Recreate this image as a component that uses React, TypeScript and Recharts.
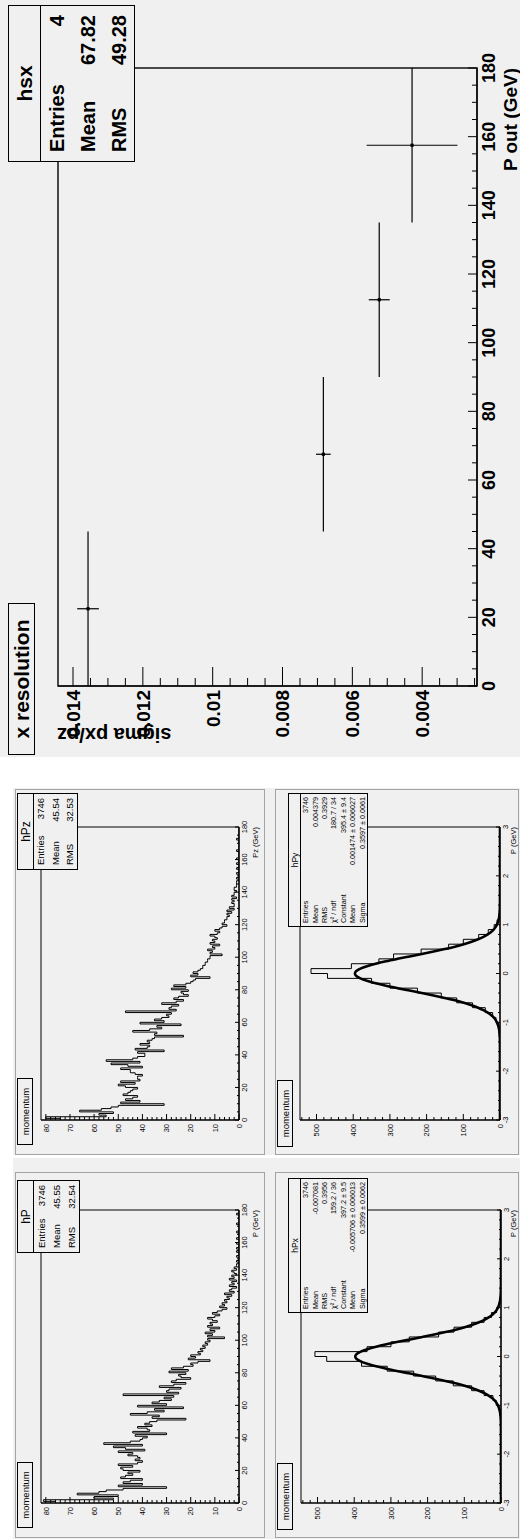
import React from "react";
import {
  LineChart,
  Line,
  XAxis,
  YAxis,
  ScatterChart,
  Scatter,
  ErrorBar,
  ReferenceArea,
} from "recharts";

const FONT = '"Liberation Sans", Arial, Helvetica, sans-serif';
const BG = "#f0f0f0";

// ---- x resolution (hsx) ----
const P_OUT = [22.5, 67.5, 112.5, 157.5];
const P_OUT_HALF_BIN = [22.5, 22.5, 22.5, 22.5];
const SIGMA_PXPZ = [0.01357, 0.00683, 0.00523, 0.00429];
const SIGMA_ERR = [0.00031, 0.00021, 0.0003, 0.0013];
const HSX_STATS = [
  ["Entries", "4"],
  ["Mean", "67.82"],
  ["RMS", "49.28"],
];

// ticks (GeV axes are shared by the big plot and hP / hPz)
const GEV_TICKS = [
  0, 5, 10, 15, 20, 25, 30, 35, 40, 45, 50, 55, 60, 65, 70, 75, 80, 85, 90, 95,
  100, 105, 110, 115, 120, 125, 130, 135, 140, 145, 150, 155, 160, 165, 170,
  175, 180,
];
const GEV_MAJOR = [0, 20, 40, 60, 80, 100, 120, 140, 160, 180];
const GEV_LABELS = ["0", "20", "40", "60", "80", "100", "120", "140", "160", "180"];
const SIGMA_TICKS = [
  0.0025, 0.003, 0.0035, 0.004, 0.0045, 0.005, 0.0055, 0.006, 0.0065, 0.007,
  0.0075, 0.008, 0.0085, 0.009, 0.0095, 0.01, 0.0105, 0.011, 0.0115, 0.012,
  0.0125, 0.013, 0.0135, 0.014,
];
const SIGMA_MAJOR = [0.004, 0.006, 0.008, 0.01, 0.012, 0.014];
const SIGMA_LABELS = ["0.004", "0.006", "0.008", "0.01", "0.012", "0.014"];

const COUNT_TICKS = [
  0, 2, 4, 6, 8, 10, 12, 14, 16, 18, 20, 22, 24, 26, 28, 30, 32, 34, 36, 38, 40,
  42, 44, 46, 48, 50, 52, 54, 56, 58, 60, 62, 64, 66, 68, 70, 72, 74, 76, 78, 80,
];
const COUNT_MAJOR = [0, 10, 20, 30, 40, 50, 60, 70, 80];
const COUNT_LABELS = ["0", "10", "20", "30", "40", "50", "60", "70", "80"];

const PX_TICKS = [
  -3, -2.8, -2.6, -2.4, -2.2, -2, -1.8, -1.6, -1.4, -1.2, -1, -0.8, -0.6, -0.4,
  -0.2, 0, 0.2, 0.4, 0.6, 0.8, 1, 1.2, 1.4, 1.6, 1.8, 2, 2.2, 2.4, 2.6, 2.8, 3,
];
const PX_MAJOR = [-3, -2, -1, 0, 1, 2, 3];
const PX_LABELS = ["-3", "-2", "-1", "0", "1", "2", "3"];
const PX_COUNT_TICKS = [
  0, 20, 40, 60, 80, 100, 120, 140, 160, 180, 200, 220, 240, 260, 280, 300, 320,
  340, 360, 380, 400, 420, 440, 460, 480, 500, 520, 540,
];
const PX_COUNT_MAJOR = [0, 100, 200, 300, 400, 500];
const PX_COUNT_LABELS = ["0", "100", "200", "300", "400", "500"];

// ---- hP / hPz : 1 GeV bins from 0 to 180 ----
const HP_COUNTS = [
  76, 81, 52, 60, 50, 67, 58, 55, 48, 30,
  50, 40, 48, 45, 40, 49, 47, 44, 46, 41,
  48, 49, 44, 50, 42, 40, 43, 41, 42, 46,
  44, 50, 39, 47, 52, 40, 56, 45, 41, 40,
  38, 43, 30, 44, 37, 38, 42, 36, 39, 37,
  34, 22, 36, 33, 45, 38, 31, 35, 23, 42,
  30, 36, 33, 28, 31, 27, 48, 25, 30, 29,
  24, 33, 27, 22, 28, 26, 20, 24, 25, 22,
  29, 21, 28, 23, 19, 20, 17, 12, 21, 18,
  20, 16, 17, 15, 16, 14, 15, 13, 14, 12,
  13, 6, 13, 11, 14, 10, 12, 8, 13, 11,
  12, 9, 11, 13, 10, 8, 11, 9, 7, 5,
  8, 6, 7, 5, 6, 4, 5, 3, 6, 2,
  4, 3, 1, 4, 2, 3, 1, 4, 2, 3,
  1, 2, 3, 1, 2, 1, 1, 0, 1, 0,
  0, 1, 0, 0, 1, 0, 1, 0, 0, 1,
  0, 0, 1, 0, 0, 0, 1, 0, 0, 0,
  0, 1, 0, 0, 0, 0, 0, 1, 0, 0,
];
const HPZ_COUNTS = [
  74, 80, 55, 58, 52, 66, 57, 53, 50, 31,
  49, 41, 47, 44, 42, 48, 46, 45, 44, 42,
  47, 50, 43, 49, 41, 42, 42, 40, 43, 45,
  45, 49, 40, 46, 53, 41, 55, 44, 42, 39,
  39, 42, 31, 43, 38, 37, 41, 37, 38, 36,
  35, 23, 35, 34, 44, 37, 32, 34, 24, 41,
  31, 35, 32, 29, 30, 28, 47, 26, 29, 28,
  25, 32, 26, 23, 27, 25, 21, 23, 24, 21,
  28, 22, 27, 22, 20, 19, 18, 12, 20, 17,
  19, 17, 16, 15, 15, 14, 14, 13, 13, 12,
  12, 7, 12, 11, 13, 10, 11, 8, 12, 10,
  11, 9, 10, 12, 9, 8, 10, 8, 7, 5,
  7, 6, 6, 5, 5, 4, 5, 3, 5, 2,
  4, 2, 2, 3, 2, 3, 1, 3, 2, 2,
  1, 2, 2, 1, 1, 1, 1, 0, 1, 0,
  0, 1, 0, 0, 1, 0, 0, 1, 0, 0,
  1, 0, 0, 0, 0, 1, 0, 0, 0, 0,
  0, 0, 1, 0, 0, 0, 0, 0, 0, 0,
];
const HP_STATS = [
  ["Entries", "3746"],
  ["Mean", "45.55"],
  ["RMS", "32.54"],
];
const HPZ_STATS = [
  ["Entries", "3746"],
  ["Mean", "45.54"],
  ["RMS", "32.53"],
];

// ---- hPx / hPy : 0.1 GeV bins from -3 to 3 ----
const HPX_COUNTS = [
  0, 0, 0, 0, 0, 0, 0, 0, 0, 0, 0, 0, 0, 0, 0,
  0, 1, 1, 3, 6, 13, 22, 46, 80, 130, 178, 238, 310, 380, 475,
  507, 365, 300, 250, 170, 128, 80, 46, 26, 12, 6, 3, 1, 0,
  0, 0, 0, 0, 0, 0, 0, 0, 0, 0, 0, 0, 0, 0, 0, 0,
];
const HPY_COUNTS = [
  0, 0, 0, 0, 0, 0, 0, 0, 0, 0, 0, 0, 0, 0, 0,
  0, 1, 2, 2, 5, 11, 20, 40, 75, 118, 160, 225, 300, 350, 470,
  515, 405, 330, 290, 215, 140, 100, 58, 32, 16, 8, 4, 2, 1,
  0, 0, 0, 0, 0, 0, 0, 0, 0, 0, 0, 0, 0, 0, 0, 0,
];
// gaussian fit curves as drawn
const FIT_X = [
  -3, -2, -1.5, -1.4, -1.3, -1.2, -1.1, -1, -0.95, -0.9, -0.85, -0.8, -0.75,
  -0.7, -0.65, -0.6, -0.55, -0.5, -0.45, -0.4, -0.35, -0.3, -0.25, -0.2, -0.15,
  -0.1, -0.05, 0, 0.05, 0.1, 0.15, 0.2, 0.25, 0.3, 0.35, 0.4, 0.45, 0.5, 0.55,
  0.6, 0.65, 0.7, 0.75, 0.8, 0.85, 0.9, 0.95, 1, 1.1, 1.2, 1.3, 1.4, 1.5, 2, 3,
];
const HPX_FIT = [
  0, 0, 0.1, 0.2, 0.6, 1.5, 3.7, 8.4, 12.2, 17.4, 24.4, 33.6, 45.3, 59.9, 77.8,
  99.0, 123.6, 151.4, 181.8, 214.2, 247.5, 280.6, 312.1, 340.4, 364.2, 382.2,
  393.4, 397.2, 393.4, 382.2, 364.2, 340.4, 312.1, 280.6, 247.5, 214.2, 181.8,
  151.4, 123.6, 99.0, 77.8, 59.9, 45.3, 33.6, 24.4, 17.4, 12.2, 8.4, 3.7, 1.5,
  0.6, 0.2, 0.1, 0, 0,
];
const HPY_FIT = [
  0, 0, 0.1, 0.2, 0.6, 1.5, 3.7, 8.4, 12.1, 17.3, 24.3, 33.4, 45.1, 59.6, 77.4,
  98.5, 123.0, 150.7, 181.0, 213.2, 246.4, 279.3, 310.7, 338.9, 362.5, 380.5,
  391.6, 395.4, 391.6, 380.5, 362.5, 338.9, 310.7, 279.3, 246.4, 213.2, 181.0,
  150.7, 123.0, 98.5, 77.4, 59.6, 45.1, 33.4, 24.3, 17.3, 12.1, 8.4, 3.7, 1.5,
  0.6, 0.2, 0.1, 0, 0,
];
const HPX_STATS = [
  ["Entries", "3746"],
  ["Mean", "-0.007081"],
  ["RMS", "0.3956"],
  ["\u03c7\u00b2 / ndf", "159.2 / 36"],
  ["Constant", "397.2 \u00b1 9.5"],
  ["Mean", "-0.005706 \u00b1 0.006013"],
  ["Sigma", "0.3599 \u00b1 0.0062"],
];
const HPY_STATS = [
  ["Entries", "3746"],
  ["Mean", "0.004379"],
  ["RMS", "0.3929"],
  ["\u03c7\u00b2 / ndf", "180.7 / 34"],
  ["Constant", "395.4 \u00b1 9.4"],
  ["Mean", "0.001474 \u00b1 0.006027"],
  ["Sigma", "0.3597 \u00b1 0.0061"],
];

function histPoints(counts: number[], lo: number, w: number) {
  const pts = counts.map((c, i) => ({ x: Math.round((lo + i * w) * 1000) / 1000, y: c }));
  pts.push({ x: Math.round((lo + counts.length * w) * 1000) / 1000, y: counts[counts.length - 1] });
  return pts;
}

type TickOpts = {
  major: number[];
  labels: string[];
  majorLen: number;
  minorLen: number;
  fontSize: number;
  gap: number;
  bold?: boolean;
};

const majorIndex = (major: number[], v: number) =>
  major.findIndex((m) => Math.abs(m - v) < 1e-9);

function bottomTick(o: TickOpts) {
  return (props: any) => {
    const { x, y, payload } = props;
    const k = majorIndex(o.major, payload.value);
    const len = k >= 0 ? o.majorLen : o.minorLen;
    return (
      <g>
        <line x1={x} x2={x} y1={y} y2={y - len} stroke="#000" strokeWidth={1} />
        {k >= 0 && (
          <text
            x={x}
            y={y + o.gap + o.fontSize * 0.74}
            textAnchor="middle"
            fontSize={o.fontSize}
            fontWeight={o.bold ? 700 : 400}
            fontFamily={FONT}
            fill="#000"
          >
            {o.labels[k]}
          </text>
        )}
      </g>
    );
  };
}

function leftTick(o: TickOpts) {
  return (props: any) => {
    const { x, y, payload } = props;
    const k = majorIndex(o.major, payload.value);
    const len = k >= 0 ? o.majorLen : o.minorLen;
    return (
      <g>
        <line x1={x} x2={x + len} y1={y} y2={y} stroke="#000" strokeWidth={1} />
        {k >= 0 && (
          <text
            x={x - o.gap}
            y={y + o.fontSize * 0.36}
            textAnchor="end"
            fontSize={o.fontSize}
            fontWeight={o.bold ? 700 : 400}
            fontFamily={FONT}
            fill="#000"
          >
            {o.labels[k]}
          </text>
        )}
      </g>
    );
  };
}

function StatsBox(p: {
  left: number;
  top: number;
  width: number;
  height: number;
  title: string;
  titleH: number;
  titleSize: number;
  rows: string[][];
  rowSize: number;
  padX: number;
  border: number;
  bold?: boolean;
}) {
  return (
    <div
      style={{
        position: "absolute",
        left: p.left,
        top: p.top,
        width: p.width,
        height: p.height,
        boxSizing: "border-box",
        border: `${p.border}px solid #000`,
        background: BG,
        fontWeight: p.bold ? 700 : 400,
        color: "#000",
        display: "flex",
        flexDirection: "column",
      }}
    >
      <div
        style={{
          height: p.titleH,
          flex: "none",
          boxSizing: "border-box",
          borderBottom: `${p.border}px solid #000`,
          display: "flex",
          alignItems: "center",
          justifyContent: "center",
          fontSize: p.titleSize,
        }}
      >
        {p.title}
      </div>
      <div
        style={{
          flex: 1,
          display: "flex",
          flexDirection: "column",
          justifyContent: "space-around",
          padding: `0 ${p.padX}px`,
        }}
      >
        {p.rows.map(([k, v], i) => (
          <div
            key={i}
            style={{
              display: "flex",
              justifyContent: "space-between",
              fontSize: p.rowSize,
              lineHeight: 1,
              whiteSpace: "nowrap",
            }}
          >
            <span>{k}</span>
            <span>{v}</span>
          </div>
        ))}
      </div>
    </div>
  );
}

function TitleBox(p: { left: number; top: number; width: number; height: number; text: string; size: number; bold?: boolean; border: number }) {
  return (
    <div
      style={{
        position: "absolute",
        left: p.left,
        top: p.top,
        width: p.width,
        height: p.height,
        boxSizing: "border-box",
        border: `${p.border}px solid #000`,
        background: BG,
        display: "flex",
        alignItems: "center",
        justifyContent: "center",
        fontSize: p.size,
        fontWeight: p.bold ? 700 : 400,
        color: "#000",
      }}
    >
      {p.text}
    </div>
  );
}

function SmallHist(p: {
  left: number;
  top: number;
  width: number;
  height: number;
  marginTop: number;
  marginRight: number;
  axisH: number;
  axisW: number;
  xDomain: [number, number];
  xTicks: number[];
  xMajor: number[];
  xLabels: string[];
  yDomain: [number, number];
  yTicks: number[];
  yMajor: number[];
  yLabels: string[];
  hist: { x: number; y: number }[];
  fit?: { x: number; y: number }[];
}) {
  return (
    <div style={{ position: "absolute", left: p.left, top: p.top }}>
      <LineChart
        width={p.width}
        height={p.height}
        margin={{ top: p.marginTop, right: p.marginRight, bottom: 0, left: 0 }}
      >
        <XAxis
          type="number"
          dataKey="x"
          domain={p.xDomain}
          ticks={p.xTicks}
          interval={0}
          height={p.axisH}
          tickSize={0}
          tickMargin={0}
          tickLine={false}
          axisLine={{ stroke: "#000", strokeWidth: 1.2 }}
          tick={bottomTick({ major: p.xMajor, labels: p.xLabels, majorLen: 4, minorLen: 2, fontSize: 7.5, gap: 2.5 })}
          allowDataOverflow
        />
        <YAxis
          type="number"
          dataKey="y"
          domain={p.yDomain}
          ticks={p.yTicks}
          interval={0}
          width={p.axisW}
          tickSize={0}
          tickMargin={0}
          tickLine={false}
          axisLine={{ stroke: "#000", strokeWidth: 1.2 }}
          tick={leftTick({ major: p.yMajor, labels: p.yLabels, majorLen: 6, minorLen: 3, fontSize: 7.5, gap: 4 })}
          allowDataOverflow
        />
        <ReferenceArea
          x1={p.xDomain[0]}
          x2={p.xDomain[1]}
          y1={p.yDomain[0]}
          y2={p.yDomain[1]}
          fill="#fff"
          fillOpacity={0}
          stroke="#000"
          strokeWidth={1}
          ifOverflow="visible"
        />
        <Line
          data={p.hist}
          dataKey="y"
          type="stepAfter"
          stroke="#000"
          strokeWidth={1}
          dot={false}
          activeDot={false}
          isAnimationActive={false}
        />
        {p.fit && (
          <Line
            data={p.fit}
            dataKey="y"
            type="monotone"
            stroke="#000"
            strokeWidth={2.6}
            dot={false}
            activeDot={false}
            isAnimationActive={false}
          />
        )}
      </LineChart>
    </div>
  );
}

const marker = (props: any) => (
  <rect x={props.cx - 1.6} y={props.cy - 1.6} width={3.2} height={3.2} fill="#000" />
);

export default function App() {
  const resData = P_OUT.map((p, i) => ({
    p,
    s: SIGMA_PXPZ[i],
    ex: P_OUT_HALF_BIN[i],
    ey: SIGMA_ERR[i],
  }));
  const hp = histPoints(HP_COUNTS, 0, 1);
  const hpz = histPoints(HPZ_COUNTS, 0, 1);
  const hpx = histPoints(HPX_COUNTS, -3, 0.1);
  const hpy = histPoints(HPY_COUNTS, -3, 0.1);
  const fitx = FIT_X.map((x, i) => ({ x, y: HPX_FIT[i] }));
  const fity = FIT_X.map((x, i) => ({ x, y: HPY_FIT[i] }));
  const sigmaDomain: [number, number] = [0.00243, 0.01443];

  const gevX = { xDomain: [0, 180] as [number, number], xTicks: GEV_TICKS, xMajor: GEV_MAJOR, xLabels: GEV_LABELS };
  const cntY = { yDomain: [0, 82] as [number, number], yTicks: COUNT_TICKS, yMajor: COUNT_MAJOR, yLabels: COUNT_LABELS };
  const pxX = { xDomain: [-3, 3] as [number, number], xTicks: PX_TICKS, xMajor: PX_MAJOR, xLabels: PX_LABELS };
  const pxY = { yDomain: [0, 545] as [number, number], yTicks: PX_COUNT_TICKS, yMajor: PX_COUNT_MAJOR, yLabels: PX_COUNT_LABELS };

  const pad = (left: number, top: number, width: number, height: number) => (
    <div
      style={{
        position: "absolute",
        left,
        top,
        width,
        height,
        boxSizing: "border-box",
        border: "1px solid #a3a3a3",
        background: BG,
      }}
    />
  );

  return (
    <div style={{ position: "absolute", left: 0, top: 0, width: 520, height: 1539, overflow: "hidden", background: "#fff" }}>
      <div
        style={{
          position: "absolute",
          left: 0,
          top: 0,
          width: 1539,
          height: 520,
          transformOrigin: "0 0",
          transform: "translateY(1539px) rotate(-90deg)",
          fontFamily: FONT,
        }}
      >
        {/* small canvas */}
        <div style={{ position: "absolute", left: 0, top: 13, width: 751, height: 507, background: BG }} />
        <div style={{ position: "absolute", left: 381, top: 13, width: 3, height: 507, background: "#fff" }} />
        {pad(1, 15, 366, 250)}
        {pad(384, 15, 366, 250)}
        {pad(1, 275, 366, 244)}
        {pad(384, 275, 366, 244)}

        <SmallHist left={0} top={15} width={366} height={249} marginTop={26} marginRight={37} axisH={25} axisW={36} {...gevX} {...cntY} hist={hp} />
        <SmallHist left={383} top={15} width={366} height={249} marginTop={26} marginRight={37} axisH={25} axisW={36} {...gevX} {...cntY} hist={hpz} />
        <SmallHist left={0} top={275} width={366} height={245} marginTop={26} marginRight={37} axisH={19} axisW={36} {...pxX} {...pxY} hist={hpx} fit={fitx} />
        <SmallHist left={383} top={275} width={366} height={245} marginTop={25} marginRight={37} axisH={20} axisW={36} {...pxX} {...pxY} hist={hpy} fit={fity} />

        <TitleBox left={11} top={17} width={66} height={16} text="momentum" size={9.5} border={1.5} />
        <TitleBox left={394} top={17} width={67} height={16} text="momentum" size={9.5} border={1.5} />
        <TitleBox left={9} top={277} width={67} height={16} text="momentum" size={9.5} border={1.5} />
        <TitleBox left={392} top={277} width={67} height={16} text="momentum" size={9.5} border={1.5} />

        <StatsBox left={286} top={17} width={73} height={63} title="hP" titleH={16} titleSize={12} rows={HP_STATS} rowSize={9.5} padX={4} border={1.5} />
        <StatsBox left={669} top={17} width={77} height={61} title="hPz" titleH={16} titleSize={12} rows={HPZ_STATS} rowSize={9.5} padX={4} border={1.5} />
        <StatsBox left={226} top={288} width={135} height={80} title="hPx" titleH={12} titleSize={8.5} rows={HPX_STATS} rowSize={7.2} padX={3} border={1.5} />
        <StatsBox left={612} top={288} width={134} height={80} title="hPy" titleH={12} titleSize={8.5} rows={HPY_STATS} rowSize={7.2} padX={3} border={1.5} />

        {/* big canvas */}
        <div style={{ position: "absolute", left: 782, top: 0, width: 757, height: 520, background: BG }} />
        <div style={{ position: "absolute", left: 782, top: 0 }}>
          <ScatterChart width={757} height={520} margin={{ top: 58, right: 68, bottom: 0, left: 0 }}>
            <XAxis
              type="number"
              dataKey="p"
              domain={[0, 180]}
              ticks={GEV_TICKS}
              interval={0}
              height={43}
              tickSize={0}
              tickMargin={0}
              tickLine={false}
              axisLine={{ stroke: "#111", strokeWidth: 1.6 }}
              tick={bottomTick({ major: GEV_MAJOR, labels: GEV_LABELS, majorLen: 9, minorLen: 5, fontSize: 18, gap: 5, bold: true })}
              allowDataOverflow
            />
            <YAxis
              type="number"
              dataKey="s"
              domain={sigmaDomain}
              ticks={SIGMA_TICKS}
              interval={0}
              width={71}
              tickSize={0}
              tickMargin={0}
              tickLine={false}
              axisLine={{ stroke: "#111", strokeWidth: 1.6 }}
              tick={leftTick({ major: SIGMA_MAJOR, labels: SIGMA_LABELS, majorLen: 19, minorLen: 8, fontSize: 19, gap: 4, bold: true })}
              allowDataOverflow
            />
            <ReferenceArea
              x1={0}
              x2={180}
              y1={sigmaDomain[0]}
              y2={sigmaDomain[1]}
              fill="#fff"
              fillOpacity={0}
              stroke="#111"
              strokeWidth={1.5}
              ifOverflow="visible"
            />
            <Scatter data={resData} shape={marker} isAnimationActive={false}>
              <ErrorBar dataKey="ex" direction="x" width={0} stroke="#000" strokeWidth={1.2} isAnimationActive={false} />
              <ErrorBar dataKey="ey" direction="y" width={0} stroke="#000" strokeWidth={1.2} isAnimationActive={false} />
            </Scatter>
          </ScatterChart>
        </div>

        <TitleBox left={784} top={8} width={152} height={27} text="x resolution" size={21} bold border={1.5} />
        <StatsBox left={1377} top={8} width={157} height={127} title="hsx" titleH={32} titleSize={21} rows={HSX_STATS} rowSize={20} padX={9} border={1.5} bold />

        {/* axis titles */}
        <svg width={1539} height={520} style={{ position: "absolute", left: 0, top: 0, pointerEvents: "none" }}>
          <text transform="translate(811,57) rotate(-90)" textAnchor="end" fontSize={20} fontWeight={700} fontFamily={FONT} fill="#000">
            sigma px/pz
          </text>
          <text x={1471} y={517} textAnchor="end" fontSize={19} fontWeight={700} fontFamily={FONT} fill="#000">
            P out (GeV)
          </text>
          <text x={329} y={258} textAnchor="end" fontSize={7.5} fontFamily={FONT} fill="#000">
            P (GeV)
          </text>
          <text x={712} y={258} textAnchor="end" fontSize={7.5} fontFamily={FONT} fill="#000">
            Pz (GeV)
          </text>
          <text x={329} y={516} textAnchor="end" fontSize={7.5} fontFamily={FONT} fill="#000">
            P (GeV)
          </text>
          <text x={712} y={516} textAnchor="end" fontSize={7.5} fontFamily={FONT} fill="#000">
            P (GeV)
          </text>
        </svg>
      </div>
    </div>
  );
}
